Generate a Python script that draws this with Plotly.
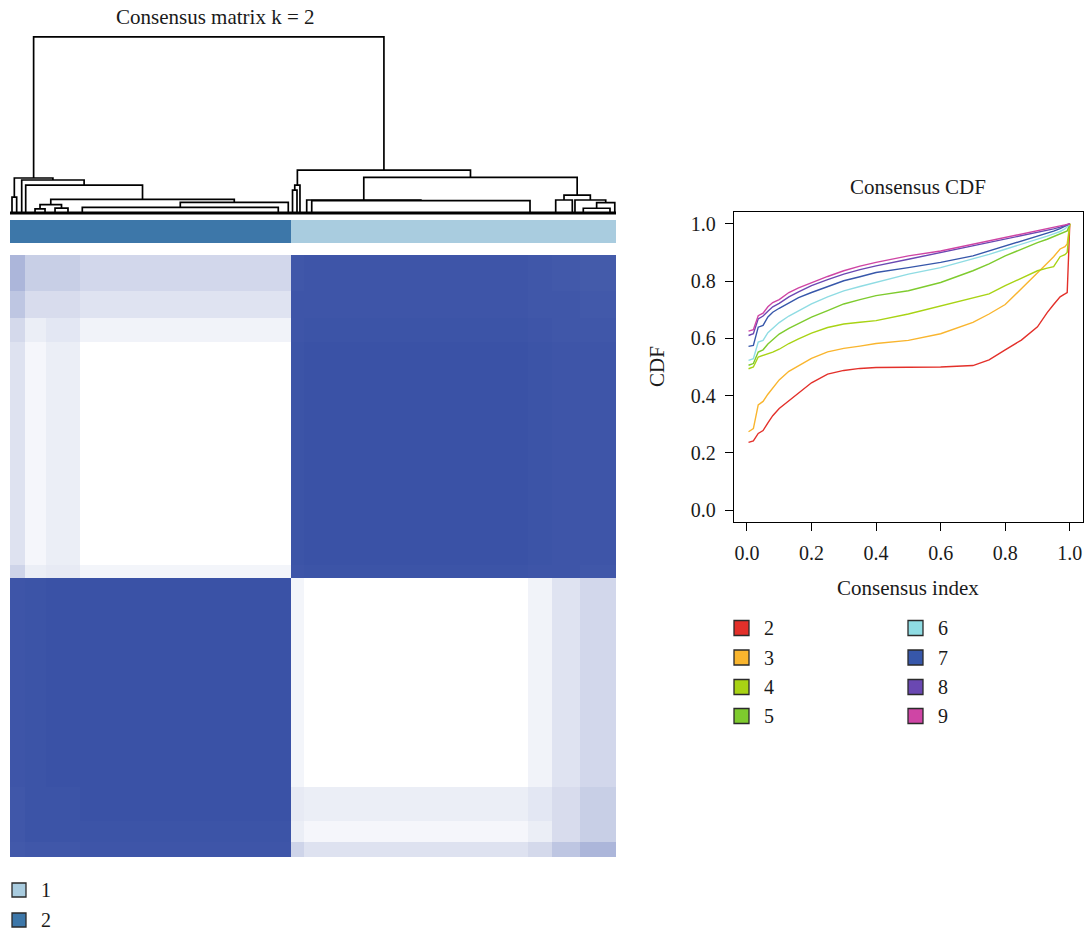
import plotly.graph_objects as go

W, H = 1088, 930
FONT = "Liberation Serif"

# ---------------- consensus matrix (sample groups in dendrogram order) ----------------
N_SAMPLES = 100
GROUP_EDGES = [0, 2.5, 6.0, 11.6, 46.4, 48.5, 85.5, 89.5, 94.0, 100]
GROUP_CLUSTER = [2, 2, 2, 2, 1, 1, 1, 1, 1]
# consensus between the four cluster-2 groups
WITHIN_C2 = [
    [0.96, 0.97, 0.97, 0.98],
    [0.97, 0.99, 0.99, 0.99],
    [0.97, 0.99, 0.99, 1.00],
    [0.98, 0.99, 1.00, 1.00],
]
# consensus between the five cluster-1 groups
WITHIN_C1 = [
    [0.98, 0.99, 0.98, 0.98, 0.97],
    [0.99, 1.00, 0.99, 0.98, 0.98],
    [0.98, 0.99, 0.98, 0.97, 0.97],
    [0.98, 0.98, 0.97, 0.97, 0.96],
    [0.97, 0.98, 0.97, 0.96, 0.95],
]
# consensus between cluster-2 groups (rows) and cluster-1 groups (cols)
CROSS_C2_C1 = [
    [0.25, 0.17, 0.22, 0.33, 0.42],
    [0.10, 0.05, 0.10, 0.20, 0.28],
    [0.12, 0.10, 0.14, 0.20, 0.28],
    [0.06, 0.00, 0.07, 0.16, 0.23],
]

# cluster annotation bar
CLUSTER_EDGES = [0, 46.4, 100]
CLUSTER_IDS = [2, 1]
CLUSTER_LABELS = ["1", "2"]
CLUSTER_COLORS = ["#A9CCDF", "#3D77A9"]

# ---------------- dendrogram ----------------
LEAVES = {
    "a1": 0.33, "a2": 1.10, "b1": 1.93, "c1": 2.59,
    "e11": 4.13, "e12": 5.78, "e21": 7.43, "e22": 9.57,
    "g1": 11.93, "g2": 44.27, "f1": 45.92,
    "h11": 46.62, "h12": 47.36, "h2": 47.85,
    "j1": 48.96, "k1": 49.79, "k2": 85.81,
    "m1": 90.05, "m2": 92.79, "n1": 93.23,
    "p1": 94.60, "p2": 99.01, "o2": 99.80,
}
# (node, left child, right child, merge height)
MERGES = [
    ("a", "a1", "a2", 0.090),
    ("e1", "e11", "e12", 0.023),
    ("e2", "e21", "e22", 0.028),
    ("e", "e1", "e2", 0.048),
    ("g", "g1", "g2", 0.032),
    ("f", "g", "f1", 0.061),
    ("d", "e", "f", 0.077),
    ("c", "c1", "d", 0.159),
    ("b", "b1", "c", 0.1875),
    ("L0", "a", "b", 0.199),
    ("h1", "h11", "h12", 0.130),
    ("h", "h1", "h2", 0.159),
    ("k", "k1", "k2", 0.070),
    ("j", "j1", "k", 0.074),
    ("m", "m1", "m2", 0.074),
    ("p", "p1", "p2", 0.027),
    ("o", "p", "o2", 0.0585),
    ("n", "n1", "o", 0.074),
    ("l", "m", "n", 0.102),
    ("i", "j", "l", 0.203),
    ("R0", "h", "i", 0.244),
    ("root", "L0", "R0", 1.000),
]

# ---------------- consensus CDF ----------------
CDF_X = [0.005, 0.02, 0.035, 0.05, 0.065, 0.08, 0.10, 0.13, 0.16, 0.20, 0.25, 0.30, 0.35,
         0.40, 0.50, 0.60, 0.70, 0.75, 0.80, 0.85, 0.90, 0.93, 0.95, 0.97, 0.985, 0.992, 1.0]
K_LABELS = ["2", "3", "4", "5", "6", "7", "8", "9"]
K_COLORS = ["#E3302A", "#F9B52E", "#A8D314", "#7ECB2E", "#8FDCE3", "#3757AA", "#6A48B2", "#CF45A5"]
CDF_K2 = [0.237, 0.242, 0.268, 0.278, 0.305, 0.330, 0.355, 0.382, 0.410, 0.445, 0.475, 0.488, 0.495,
          0.498, 0.499, 0.500, 0.505, 0.525, 0.560, 0.594, 0.640, 0.690, 0.718, 0.745, 0.755, 0.760, 1.000]
CDF_K3 = [0.274, 0.285, 0.368, 0.380, 0.405, 0.428, 0.455, 0.485, 0.505, 0.530, 0.553, 0.565, 0.573,
          0.582, 0.593, 0.616, 0.656, 0.685, 0.718, 0.772, 0.828, 0.862, 0.885, 0.912, 0.920, 0.930, 1.000]
CDF_K4 = [0.494, 0.500, 0.535, 0.540, 0.545, 0.552, 0.562, 0.582, 0.598, 0.618, 0.638, 0.650, 0.656,
          0.662, 0.685, 0.714, 0.743, 0.755, 0.784, 0.810, 0.836, 0.845, 0.850, 0.885, 0.892, 0.900, 1.000]
CDF_K5 = [0.506, 0.512, 0.552, 0.560, 0.580, 0.595, 0.615, 0.635, 0.652, 0.674, 0.697, 0.720, 0.735,
          0.749, 0.766, 0.795, 0.836, 0.860, 0.888, 0.912, 0.934, 0.946, 0.955, 0.965, 0.970, 0.975, 1.000]
CDF_K6 = [0.523, 0.529, 0.587, 0.593, 0.620, 0.635, 0.655, 0.678, 0.695, 0.720, 0.745, 0.766, 0.781,
          0.795, 0.824, 0.847, 0.876, 0.893, 0.911, 0.928, 0.946, 0.957, 0.965, 0.973, 0.982, 0.990, 0.998]
CDF_K7 = [0.572, 0.575, 0.639, 0.645, 0.675, 0.691, 0.705, 0.725, 0.742, 0.760, 0.780, 0.801, 0.815,
          0.830, 0.847, 0.865, 0.888, 0.905, 0.923, 0.940, 0.957, 0.967, 0.974, 0.983, 0.990, 0.995, 1.000]
CDF_K8 = [0.610, 0.616, 0.668, 0.678, 0.695, 0.710, 0.722, 0.745, 0.762, 0.784, 0.805, 0.824, 0.840,
          0.853, 0.876, 0.899, 0.922, 0.934, 0.946, 0.957, 0.969, 0.977, 0.982, 0.988, 0.994, 0.997, 1.000]
CDF_K9 = [0.625, 0.630, 0.679, 0.688, 0.710, 0.725, 0.735, 0.760, 0.776, 0.795, 0.816, 0.836, 0.852,
          0.865, 0.888, 0.905, 0.928, 0.940, 0.951, 0.963, 0.975, 0.982, 0.986, 0.991, 0.996, 0.998, 1.000]
CDF_SERIES = [CDF_K2, CDF_K3, CDF_K4, CDF_K5, CDF_K6, CDF_K7, CDF_K8, CDF_K9]
TICKS = [0.0, 0.2, 0.4, 0.6, 0.8, 1.0]

# ---------------- build figure ----------------
n_groups = len(GROUP_CLUSTER)
c2_idx = [i for i in range(n_groups) if GROUP_CLUSTER[i] == 2]
c1_idx = [i for i in range(n_groups) if GROUP_CLUSTER[i] == 1]
Z = [[0.0] * n_groups for _ in range(n_groups)]
for r in range(n_groups):
    for c in range(n_groups):
        if r in c2_idx and c in c2_idx:
            Z[r][c] = WITHIN_C2[c2_idx.index(r)][c2_idx.index(c)]
        elif r in c1_idx and c in c1_idx:
            Z[r][c] = WITHIN_C1[c1_idx.index(r)][c1_idx.index(c)]
        elif r in c2_idx:
            Z[r][c] = CROSS_C2_C1[c2_idx.index(r)][c1_idx.index(c)]
        else:
            Z[r][c] = CROSS_C2_C1[c2_idx.index(c)][c1_idx.index(r)]

fig = go.Figure()

fig.add_trace(go.Heatmap(
    x=GROUP_EDGES, y=GROUP_EDGES, z=Z, zmin=0, zmax=1,
    colorscale=[[0, "#FFFFFF"], [1, "#3A52A6"]], showscale=False,
    xaxis="x", yaxis="y", hoverinfo="skip"))

fig.add_trace(go.Heatmap(
    x=CLUSTER_EDGES, y=[0, 1], z=[CLUSTER_IDS], zmin=1, zmax=2,
    colorscale=[[0, CLUSTER_COLORS[0]], [1, CLUSTER_COLORS[1]]], showscale=False,
    xaxis="x2", yaxis="y2", hoverinfo="skip"))

# dendrogram segments
pos = dict(LEAVES)
hgt = {k: 0.0 for k in LEAVES}
dx, dy = [], []
for node, left, right, h in MERGES:
    xl, xr = pos[left], pos[right]
    dx += [xl, xl, xr, xr, None]
    dy += [hgt[left], h, h, hgt[right], None]
    pos[node] = (xl + xr) / 2
    hgt[node] = h
fig.add_trace(go.Scatter(x=dx, y=dy, mode="lines", line=dict(color="black", width=1.7),
                         xaxis="x3", yaxis="y3", hoverinfo="skip", showlegend=False))
fig.add_trace(go.Scatter(x=[0, N_SAMPLES], y=[0, 0], mode="lines", line=dict(color="black", width=3),
                         xaxis="x3", yaxis="y3", hoverinfo="skip", showlegend=False))

for lab, col, ys in zip(K_LABELS, K_COLORS, CDF_SERIES):
    fig.add_trace(go.Scatter(x=CDF_X, y=ys, mode="lines", name=lab,
                             line=dict(color=col, width=1.4), xaxis="x4", yaxis="y4",
                             showlegend=False))

hm_x = [10 / W, 616 / W]
hidden = dict(visible=False, showgrid=False, zeroline=False)
cdf_axis = dict(range=[-0.04, 1.04], tickvals=TICKS, ticktext=[f"{t:.1f}" for t in TICKS],
                ticks="outside", ticklen=8, tickwidth=1.2, tickcolor="black",
                showline=True, linecolor="black", linewidth=1.4, mirror=True,
                showgrid=False, zeroline=False, ticklabelstandoff=5,
                tickfont=dict(family=FONT, size=20, color="#1a1a1a"))

fig.update_layout(
    width=W, height=H, margin=dict(l=0, r=0, t=0, b=0),
    paper_bgcolor="white", plot_bgcolor="white", showlegend=False,
    xaxis=dict(domain=hm_x, range=[0, N_SAMPLES], **hidden),
    yaxis=dict(domain=[1 - 857 / H, 1 - 255 / H], range=[0, N_SAMPLES], **hidden),
    xaxis2=dict(domain=hm_x, range=[0, N_SAMPLES], **hidden),
    yaxis2=dict(domain=[1 - 243 / H, 1 - 220 / H], range=[0, 1], **hidden),
    xaxis3=dict(domain=hm_x, range=[0, N_SAMPLES], **hidden),
    yaxis3=dict(domain=[1 - 218.3 / H, 1 - 35.2 / H], range=[-0.03, 1.01], **hidden),
    xaxis4=dict(domain=[734 / W, 1082.7 / W], anchor="y4", **cdf_axis),
    yaxis4=dict(domain=[1 - 521.7 / H, 1 - 212.3 / H], anchor="x4", **cdf_axis),
)

def txt(x, y, s, size=21, angle=0, xanchor="center"):
    fig.add_annotation(x=x / W, y=1 - y / H, xref="paper", yref="paper", text=s,
                       showarrow=False, xanchor=xanchor, yanchor="middle", textangle=angle,
                       font=dict(family=FONT, size=size, color="#1a1a1a"))

txt(215, 17, "Consensus matrix k = 2")
txt(918, 187, "Consensus CDF")
txt(908, 588, "Consensus index")
txt(657, 367, "CDF", angle=-90)

def swatch(x0, yc, color, label, size=15):
    fig.add_shape(type="rect", xref="paper", yref="paper",
                  x0=x0 / W, x1=(x0 + size) / W,
                  y0=1 - (yc + size / 2) / H, y1=1 - (yc - size / 2) / H,
                  fillcolor=color, line=dict(color="#2a2a2a", width=1.3))
    txt(x0 + size + 13, yc, label, size=20, xanchor="left")

# CDF legend, two columns of four
row_y = [628, 657.5, 687, 716]
for i, (lab, col) in enumerate(zip(K_LABELS, K_COLORS)):
    x0 = 734 if i < 4 else 908
    swatch(x0, row_y[i % 4], col, lab)

# cluster legend
for i, (lab, col) in enumerate(zip(CLUSTER_LABELS, CLUSTER_COLORS)):
    swatch(12, [890, 920][i], col, lab, size=14)

fig.write_html("out.html")
